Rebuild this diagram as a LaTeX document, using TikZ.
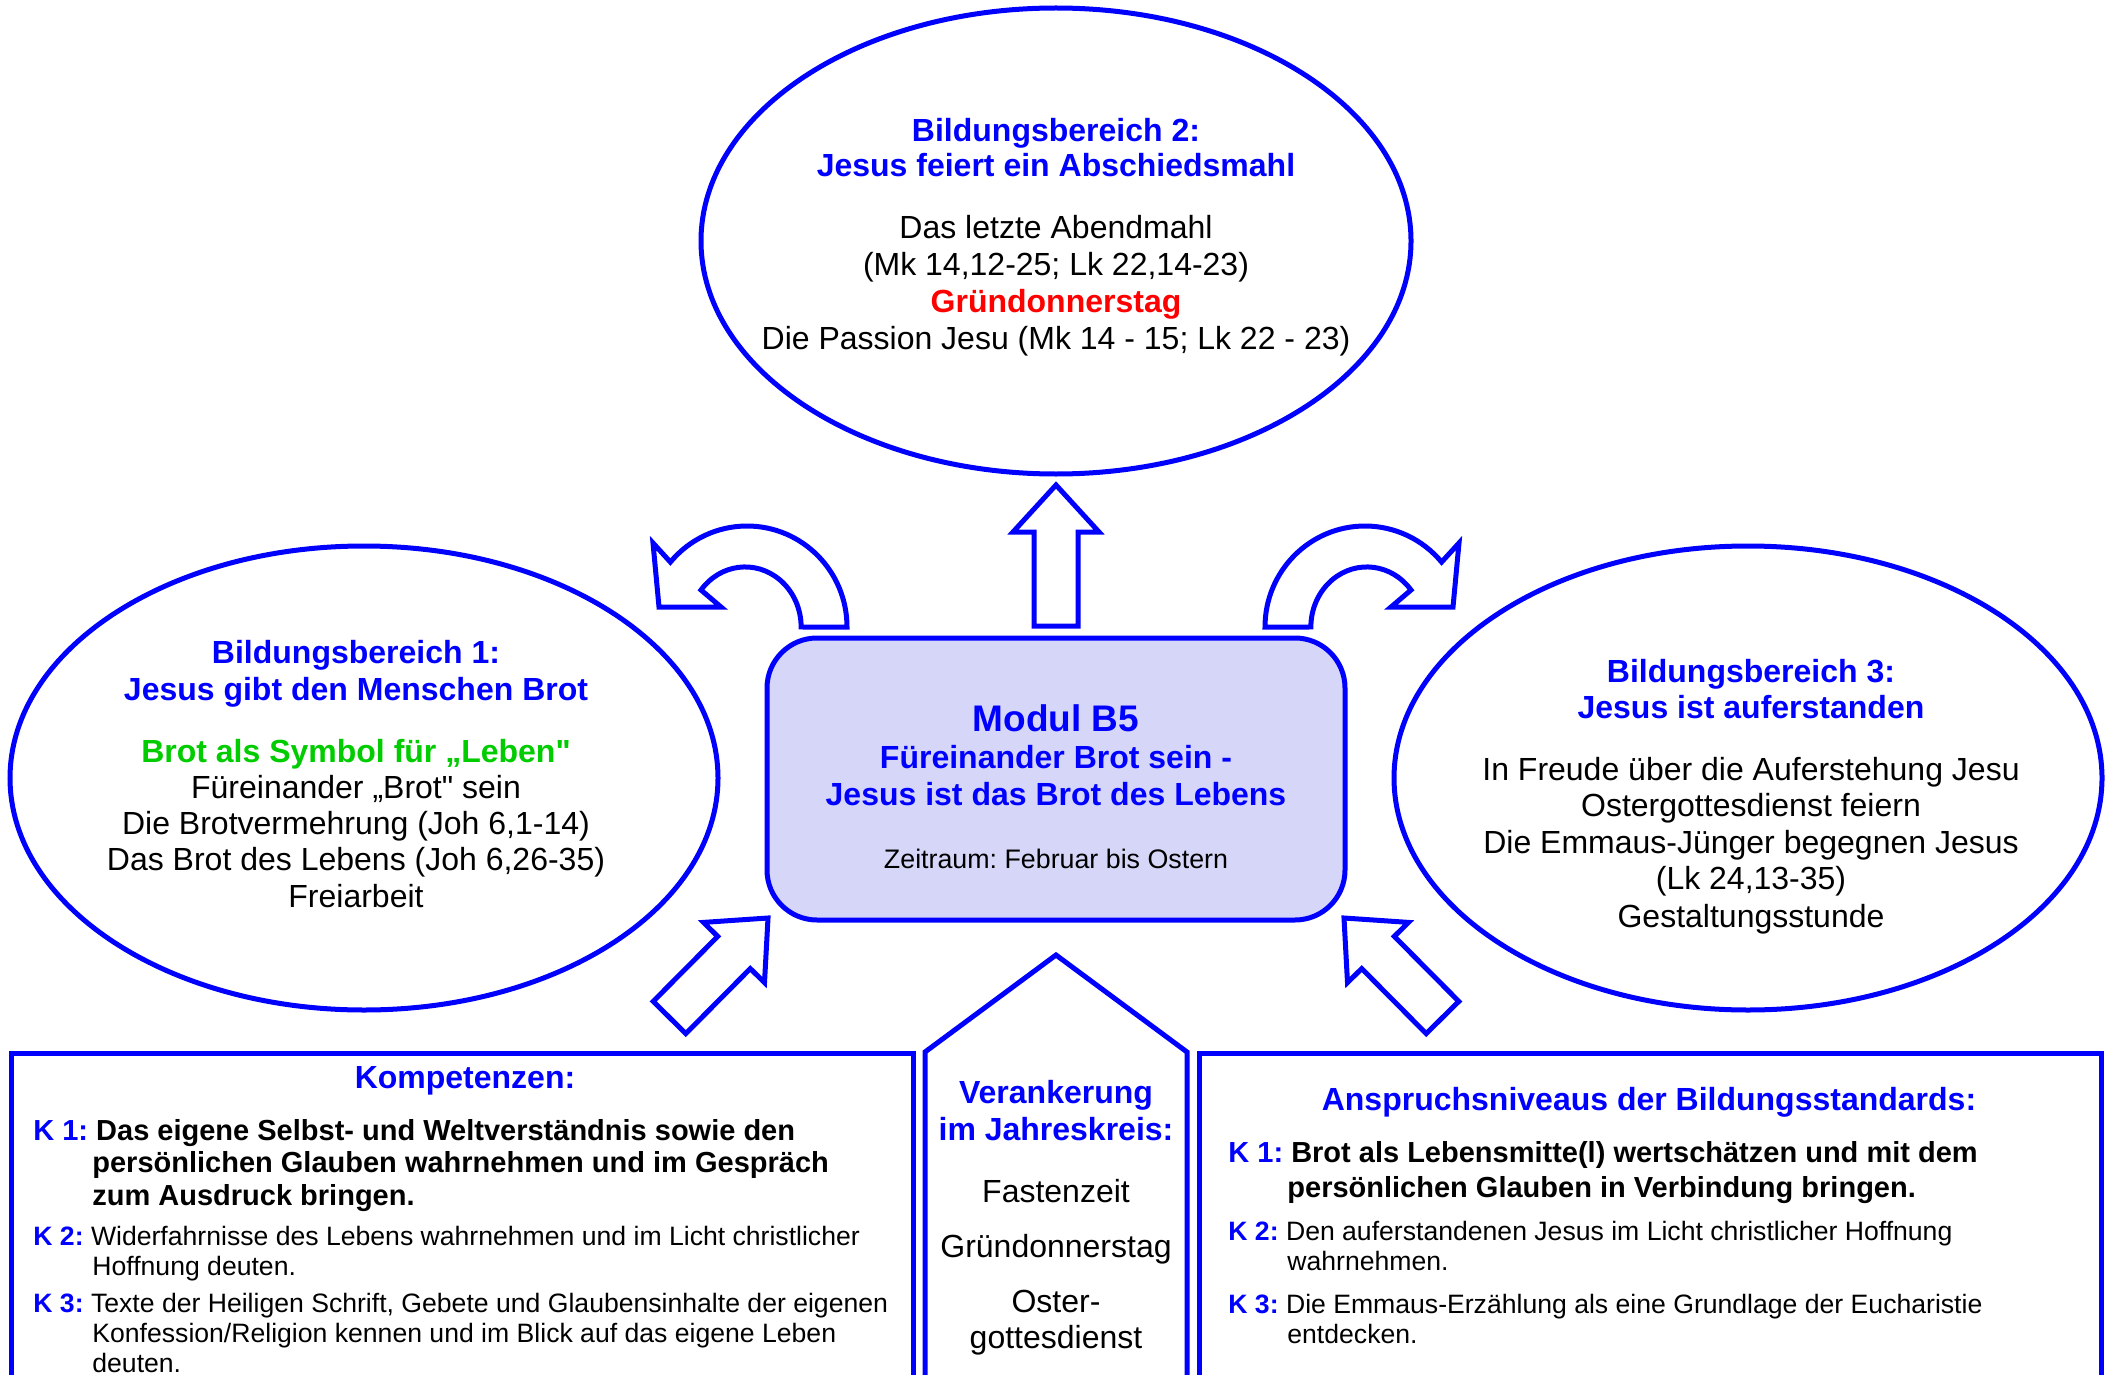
\documentclass[tikz,border=0pt]{standalone}
\usepackage{fontspec}
\setmainfont{Liberation Sans}[Ligatures=TeXOff]

\definecolor{modulblau}{RGB}{0,0,255}
\definecolor{symbolgruen}{RGB}{0,204,0}
\definecolor{tagrot}{RGB}{255,0,0}
\definecolor{modulfill}{RGB}{214,214,248}

\begin{document}
\frenchspacing
\begin{tikzpicture}[x=0.5pt, y=-0.5pt, every node/.style={inner sep=0pt, anchor=base},
	rand/.style={draw=modulblau, line width=2.5pt},
	titel/.style={font=\bfseries\fontsize{16}{19}\selectfont, text=modulblau},
	zeile/.style={font=\fontsize{16}{19}\selectfont},
	kfett/.style={font=\bfseries\fontsize{14.5}{17}\selectfont, anchor=base west},
	knorm/.style={font=\fontsize{13.3}{16}\selectfont, anchor=base west}]
	\useasboundingbox (0, 0) rectangle (2109, 1375);
	\clip (0, 0) rectangle (2109, 1375);
	
	% \drawbogenpfeil#xshift#xscale
	\def\drawbogenpfeil#1#2{
		\begin{scope}[shift={(#1, 0)}, xscale=#2]
			\filldraw[rand, fill=white]
				(803, 627) -- (847, 627)
				arc[start angle=0, end angle=-140, x radius=100, y radius=101]
				-- (653, 543) -- (659, 607) -- (721, 607) -- (701, 590)
				arc[start angle=-142, end angle=0, x radius=56, y radius=60]
				-- cycle;
		\end{scope}
	}
	
	% \drawschraegpfeil#xshift#xscale
	\def\drawschraegpfeil#1#2{
		\begin{scope}[shift={(#1, 0)}, xscale=#2]
			\filldraw[rand, fill=white]
				(768, 918) -- (703.5, 922.4) -- (717.7, 936.4) -- (653.2, 1001.4)
				-- (685.8, 1033.6) -- (750.3, 968.6) -- (764.5, 982.6) -- cycle;
		\end{scope}
	}
	
	% ellipses
	\draw[rand] (1056, 241) ellipse [x radius=355, y radius=233];
	\draw[rand] (364, 778) ellipse [x radius=354, y radius=232];
	\draw[rand] (1748, 778) ellipse [x radius=354, y radius=232];
	
	% modul box
	\filldraw[rand, fill=modulfill, rounded corners=25pt] (767, 638) rectangle (1345, 920);
	
	% arrows
	\filldraw[rand, fill=white] (1034, 626) -- (1034, 532) -- (1013, 532) -- (1056, 485)
		-- (1099, 532) -- (1078, 532) -- (1078, 626) -- cycle;
	\drawbogenpfeil{0}{1}
	\drawbogenpfeil{2112}{-1}
	\drawschraegpfeil{0}{1}
	\drawschraegpfeil{2112}{-1}
	
	% bottom boxes and house
	\draw[rand] (11, 1400) -- (11, 1053) -- (913, 1053) -- (913, 1400);
	\draw[rand] (925, 1400) -- (925, 1052) -- (1056, 955) -- (1187, 1052) -- (1187, 1400);
	\draw[rand] (1199, 1400) -- (1199, 1053) -- (2101, 1053) -- (2101, 1400);
	
	% Bildungsbereich 2
	\node[titel] (b2a) at (1056, 142) {Bildungsbereich 2:};
	\node[titel] (b2b) at (1056, 177) {Jesus feiert ein Abschiedsmahl};
	\node[zeile] (b2c) at (1056, 239) {Das letzte Abendmahl};
	\node[zeile] (b2d) at (1056, 276) {(Mk 14,12-25; Lk 22,14-23)};
	\node[titel, text=tagrot] (b2e) at (1056, 313) {Gründonnerstag};
	\node[zeile] (b2f) at (1056, 350) {Die Passion Jesu (Mk 14 - 15; Lk 22 - 23)};
	
	% Bildungsbereich 1
	\node[titel] (b1a) at (356, 663) {Bildungsbereich 1:};
	\node[titel] (b1b) at (356, 700) {Jesus gibt den Menschen Brot};
	\node[titel, text=symbolgruen] (b1c) at (356, 762) {Brot als Symbol für „Leben"};
	\node[zeile] (b1d) at (356, 798) {Füreinander „Brot" sein};
	\node[zeile] (b1e) at (356, 834) {Die Brotvermehrung (Joh 6,1-14)};
	\node[zeile] (b1f) at (356, 870) {Das Brot des Lebens (Joh 6,26-35)};
	\node[zeile] (b1g) at (356, 907) {Freiarbeit};
	
	% Bildungsbereich 3
	\node[titel] (b3a) at (1751, 682) {Bildungsbereich 3:};
	\node[titel] (b3b) at (1751, 718) {Jesus ist auferstanden};
	\node[zeile] (b3c) at (1751, 780) {In Freude über die Auferstehung Jesu};
	\node[zeile] (b3d) at (1751, 816) {Ostergottesdienst feiern};
	\node[zeile] (b3e) at (1751, 853) {Die Emmaus-Jünger begegnen Jesus};
	\node[zeile] (b3f) at (1751, 889) {(Lk 24,13-35)};
	\node[zeile] (b3g) at (1751, 927) {Gestaltungsstunde};
	
	% Modul
	\node[titel, font=\bfseries\fontsize{18.5}{21}\selectfont] (moda) at (1056, 731) {Modul B5};
	\node[titel] (modb) at (1056, 768) {Füreinander Brot sein -};
	\node[titel] (modc) at (1056, 805) {Jesus ist das Brot des Lebens};
	\node[font=\fontsize{13.4}{16}\selectfont] (modd) at (1056, 868) {Zeitraum: Februar bis Ostern};
	
	% Verankerung
	\node[titel] (vera) at (1056, 1103) {Verankerung};
	\node[titel] (verb) at (1056, 1140) {im Jahreskreis:};
	\node[zeile] (verc) at (1056, 1202) {Fastenzeit};
	\node[zeile] (verd) at (1056, 1257) {Gründonnerstag};
	\node[zeile] (vere) at (1056, 1312) {Oster-};
	\node[zeile] (verf) at (1056, 1348) {gottesdienst};
	
	% Kompetenzen
	\node[titel] (kompa) at (465, 1088) {Kompetenzen:};
	\node[kfett] (komp1a) at (33, 1140) {\textcolor{modulblau}{K 1:} Das eigene Selbst- und Weltverständnis sowie den};
	\node[kfett] (komp1b) at (92, 1172) {persönlichen Glauben wahrnehmen und im Gespräch};
	\node[kfett] (komp1c) at (92, 1205) {zum Ausdruck bringen.};
	\node[knorm] (komp2a) at (33, 1245) {\textcolor{modulblau}{\bfseries K 2:} Widerfahrnisse des Lebens wahrnehmen und im Licht christlicher};
	\node[knorm] (komp2b) at (92, 1275) {Hoffnung deuten.};
	\node[knorm] (komp3a) at (33, 1312) {\textcolor{modulblau}{\bfseries K 3:} Texte der Heiligen Schrift, Gebete und Glaubensinhalte der eigenen};
	\node[knorm] (komp3b) at (92, 1342) {Konfession/Religion kennen und im Blick auf das eigene Leben};
	\node[knorm] (komp3c) at (92, 1372) {deuten.};
	
	% Anspruchsniveaus
	\node[titel] (anspa) at (1649, 1110) {Anspruchsniveaus der Bildungsstandards:};
	\node[kfett] (ansp1a) at (1228, 1162) {\textcolor{modulblau}{K 1:} Brot als Lebensmitte(l) wertschätzen und mit dem};
	\node[kfett] (ansp1b) at (1287, 1197) {persönlichen Glauben in Verbindung bringen.};
	\node[knorm] (ansp2a) at (1228, 1240) {\textcolor{modulblau}{\bfseries K 2:} Den auferstandenen Jesus im Licht christlicher Hoffnung};
	\node[knorm] (ansp2b) at (1287, 1270) {wahrnehmen.};
	\node[knorm] (ansp3a) at (1228, 1313) {\textcolor{modulblau}{\bfseries K 3:} Die Emmaus-Erzählung als eine Grundlage der Eucharistie};
	\node[knorm] (ansp3b) at (1287, 1343) {entdecken.};
\end{tikzpicture}
\end{document}
